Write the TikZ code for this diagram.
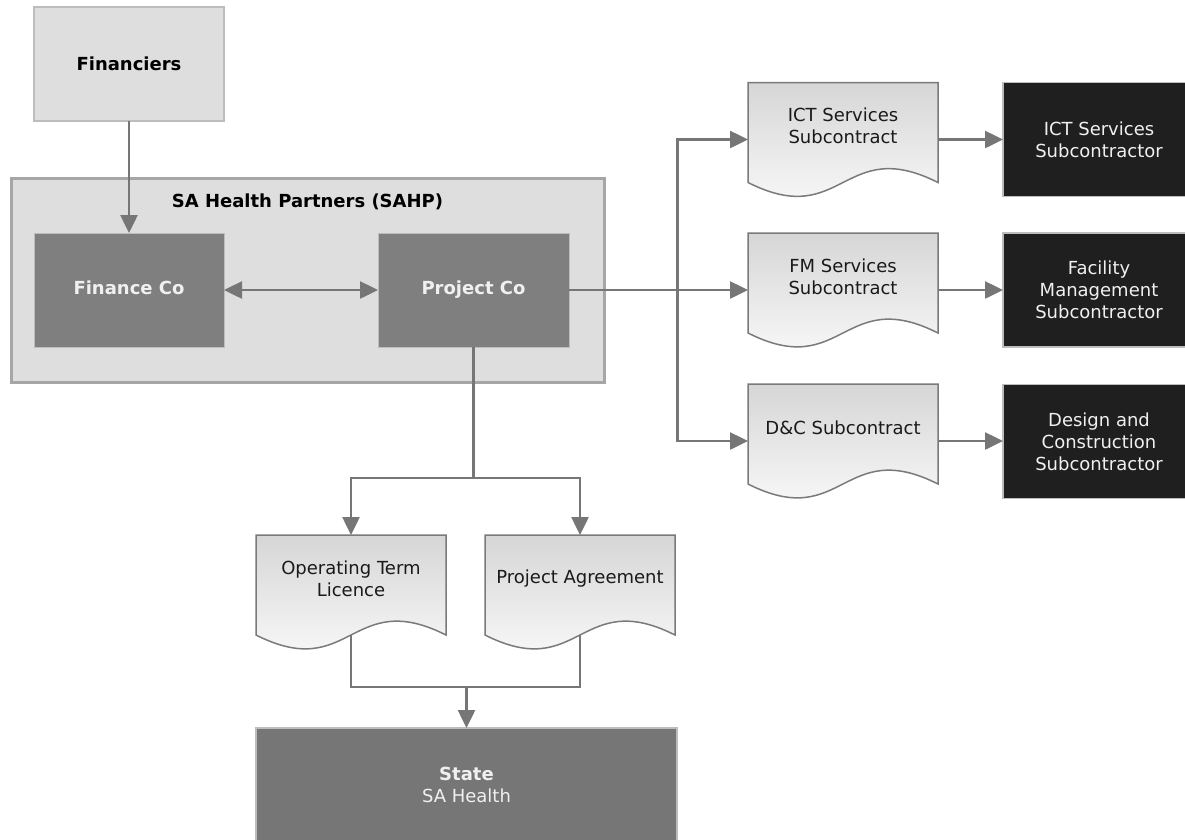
\documentclass[tikz,border=0pt]{standalone}
\usepackage{fontspec}
\setmainfont{DejaVu Sans}
\usetikzlibrary{arrows.meta,calc}
\pgfdeclarelayer{background}
\pgfdeclarelayer{canvas}
\pgfsetlayers{canvas,background,main}
\definecolor{connc}{HTML}{767676}
\definecolor{lightfill}{HTML}{DEDEDE}
\definecolor{lightborder}{HTML}{BDBDBD}
\definecolor{groupborder}{HTML}{A6A6A6}
\definecolor{midfill}{HTML}{7F7F7F}
\definecolor{darkfill}{HTML}{1F1F1F}
\definecolor{statefill}{HTML}{767676}
\definecolor{docgray}{HTML}{D6D6D6}
\definecolor{docborder}{HTML}{7A7A7A}
\definecolor{doctext}{HTML}{1A1A1A}
\definecolor{whitetext}{HTML}{F0F0F0}
\newcommand\docoutline[1]{%
  \draw[docborder, line width=1.5pt, top color=docgray, bottom color=white]
    (#1.north west) -- (#1.north east) -- ($(#1.south east)+(0,-14)$)
    .. controls ($(#1.south)+(0,-62)$) and ($(#1.south)+(0,34)$) ..
    ($(#1.south west)+(0,-14)$) -- cycle;}
\tikzset{
  lbl/.style={font=\fontsize{18}{22}\selectfont, align=center},
  blbl/.style={font=\bfseries\fontsize{18}{22}\selectfont, align=center},
  connline/.style={draw=connc, line width=2.5pt},
  arr/.style={connline, -{Triangle[length=18pt,width=17pt]}},
  darr/.style={connline, {Triangle[length=18pt,width=17pt]}-{Triangle[length=18pt,width=17pt]}},
  basebox/.style={rectangle, inner sep=0pt, outer sep=0pt, minimum width=190pt, minimum height=114pt},
  lightbox/.style={basebox, draw=lightborder, line width=1.5pt, fill=lightfill, blbl, text=black},
  midbox/.style={basebox, draw=lightborder, line width=0.8pt, fill=midfill, blbl, text=whitetext, text height=13pt, text depth=4pt},
  darkbox/.style={basebox, minimum width=192pt, draw=lightborder, line width=1.5pt, fill=darkfill, lbl, text=whitetext},
  statebox/.style={basebox, minimum width=421pt, draw=lightborder, line width=1.5pt, fill=statefill, lbl, text=whitetext},
  groupbox/.style={rectangle, inner sep=0pt, draw=groupborder, line width=3pt, fill=lightfill, minimum width=593pt, minimum height=204pt},
  docnode/.style={basebox},
  doclabel/.style={lbl, text=doctext, yshift=13.5pt}
}
\begin{document}
\begin{tikzpicture}[x=1pt,y=-1pt]
\useasboundingbox (0,0) rectangle (1185,839);
\clip (0,0) rectangle (1185,839);
\begin{pgfonlayer}{canvas}
\fill[white] (0,0) rectangle (1185,839);
\end{pgfonlayer}

% top
\node[lightbox] (fin) at (129,64) {Financiers};
\node[groupbox] (sahp) at (307.5,280) {};
\node[blbl, text=black] (sahptitle) at (307.5,202) {SA Health Partners (SAHP)};
\node[midbox] (finco) at (129,290) {Finance Co};
\node[midbox, minimum width=191pt] (projco) at (473.5,290) {Project Co};

% documents
\node[docnode, label={[doclabel]center:{ICT Services\\Subcontract}}] (ictdoc) at (843,139.5) {};
\node[docnode, label={[doclabel]center:{FM Services\\Subcontract}}] (fmdoc) at (843,290) {};
\node[docnode, label={[doclabel]center:{D\&C Subcontract}}] (dcdoc) at (843,441) {};
\node[docnode, label={[doclabel]center:{Operating Term\\Licence}}] (otldoc) at (351,592) {};
\node[docnode, label={[doclabel]center:{Project Agreement}}] (padoc) at (580,592) {};
\begin{pgfonlayer}{background}
\docoutline{ictdoc}
\docoutline{fmdoc}
\docoutline{dcdoc}
\docoutline{otldoc}
\docoutline{padoc}
\end{pgfonlayer}

% subcontractors
\node[darkbox] (ictbox) at (1099,139.5) {ICT Services\\Subcontractor};
\node[darkbox] (fmbox) at (1099,290) {Facility\\Management\\Subcontractor};
\node[darkbox] (dcbox) at (1099,441.5) {Design and\\Construction\\Subcontractor};

% state
\node[statebox] (state) at (466.5,785) {\textbf{State}\\SA Health};

% helper coordinates
\coordinate (trunk) at (677.5,290);
\coordinate (split) at (473.5,478);
\coordinate (merge) at (466.5,687);
\coordinate (otlw) at ($(otldoc.south)+(0,-14)$);
\coordinate (paw) at ($(padoc.south)+(0,-14)$);

% connectors
\draw[arr] (fin.south) -- (finco.north);
\draw[darr] (finco.east) -- (projco.west);
\draw[arr] (projco.east) -- (fmdoc.west);
\draw[arr] (trunk) |- (ictdoc.west);
\draw[arr] (trunk) |- (dcdoc.west);
\draw[arr] (ictdoc.east) -- (ictbox.west);
\draw[arr] (fmdoc.east) -- (fmbox.west);
\draw[arr] (dcdoc.east) -- (dcbox.west |- dcdoc.east);
\draw[connline] (projco.south) -- (split);
\draw[arr] (split) -| (otldoc.north);
\draw[arr] (split) -| (padoc.north);
\draw[connline] (otlw) |- (merge) -| (paw);
\draw[arr] (merge) -- (state.north);
\end{tikzpicture}
\end{document}
